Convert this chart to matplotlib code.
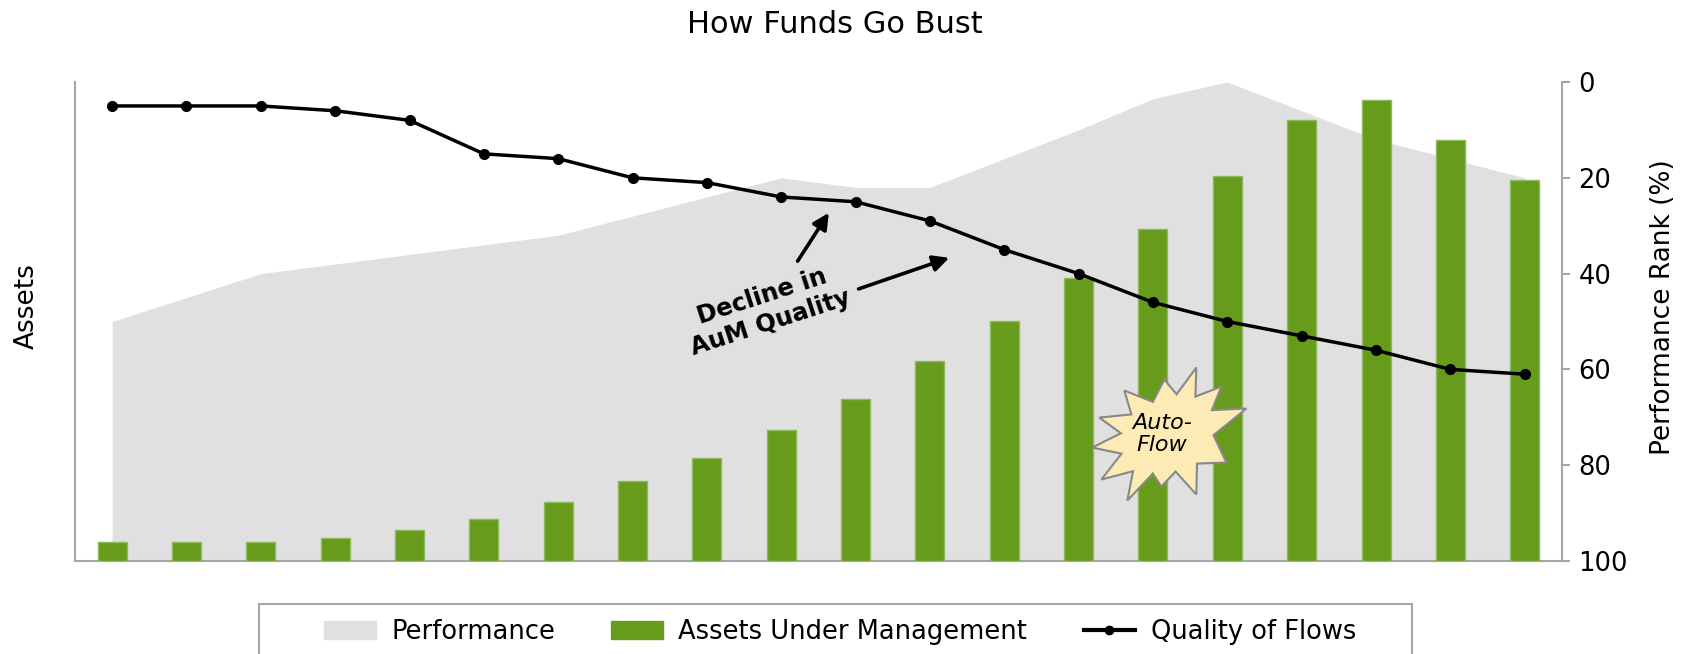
import matplotlib
matplotlib.use("Agg")
import matplotlib.pyplot as plt
from matplotlib.patches import Polygon, Rectangle, Patch
from matplotlib.lines import Line2D

# data
periods = list(range(20))
performance_rank = [50, 45, 40, 38, 36, 34, 32, 28, 24, 20, 22, 22, 16, 10, 3.5, 0, 6, 12, 16, 20]
assets = [4, 4, 4, 4.7, 6.5, 8.8, 12.4, 16.7, 21.4, 27.3, 33.9, 41.8, 50.1, 59.1, 69.3, 80.3, 92.1, 96.2, 87.9, 79.5]
flow_quality = [5, 5, 5, 6, 8, 15, 16, 20, 21, 24, 25, 29, 35, 40, 46, 50, 53, 56, 60, 61]
rank_ticks = [0, 20, 40, 60, 80, 100]
legend_labels = ["Performance", "Assets Under Management", "Quality of Flows"]

GREEN = "#679b1b"
GREY = "#e0e0e0"
AXIS = "#a6a6a6"

plt.rcParams['font.family'] = ['DejaVu Sans']

fig = plt.figure(figsize=(16.92, 6.54), dpi=100)
ax = fig.add_axes([0.0443, 0.1422, 0.8788, 0.7324])
ax_aum = ax.twinx()
ax_q = ax.twinx()

# performance area (rank axis, 0 at top)
ax.fill_between(periods, performance_rank, 100, color=GREY, linewidth=0)
ax.set_ylim(100, 0)
ax.set_xlim(-0.5, 19.5)
ax.set_xticks([])
ax.yaxis.tick_right()
ax.set_yticks(rank_ticks)
ax.tick_params(axis='y', colors=AXIS, labelcolor='black', labelsize=18.5,
               length=6, width=1.5, pad=6)
ax.spines['top'].set_visible(False)
for s in ['left', 'right', 'bottom']:
    ax.spines[s].set_color(AXIS)
    ax.spines[s].set_linewidth(1.5)

# assets bars
ax_aum.bar(periods, assets, width=0.39, color=GREEN, edgecolor="#8cba5c", linewidth=1)
ax_aum.set_ylim(0, 100)
ax_aum.set_yticks([])
for s in ax_aum.spines.values():
    s.set_visible(False)

# quality of flows line
ax_q.plot(periods, flow_quality, color='black', lw=2.5, marker='o', ms=7)
ax_q.set_ylim(100, 0)
ax_q.set_yticks([])
for s in ax_q.spines.values():
    s.set_visible(False)

# annotation
ax_q.text(8.8, 47.5, "Decline in\nAuM Quality", rotation=18, ha='center', va='center',
          fontsize=17.5, fontweight='bold', multialignment='center', rotation_mode='anchor')
arrow = dict(arrowstyle='-|>', color='black', lw=2.6, mutation_scale=24, shrinkA=0, shrinkB=0)
ax_q.annotate('', xy=(9.64, 27.3), xytext=(9.22, 37.4), arrowprops=arrow)
ax_q.annotate('', xy=(11.26, 36.7), xytext=(10.04, 43.2), arrowprops=arrow)

# starburst "Auto-Flow"
cx, cy = 14.22, 73.6
px_x, px_y = 74.36, 4.79   # pixels per data unit
tips = [(27, -67), (52, -48), (77, -26), (57, 28), (27, 60), (-8, 52),
        (-42, 66), (-68, 45), (-77, 13), (-70, -17), (-45, -44), (-5, -55)]
verts = []
for i, t in enumerate(tips):
    n = tips[(i + 1) % len(tips)]
    verts.append(t)
    verts.append((0.33 * (t[0] + n[0]), 0.33 * (t[1] + n[1])))
verts = [(cx + dx / px_x, cy + dy / px_y) for dx, dy in verts]
ax_q.add_patch(Polygon(verts, closed=True, facecolor="#fdebb5", edgecolor="#888888", lw=1.5, zorder=4))
ax_q.text(14.12, 73.5, "Auto-\nFlow", ha='center', va='center', fontsize=16,
          style='italic', zorder=5, linespacing=1.1)

# titles / labels
fig.text(0.4935, 0.963, "How Funds Go Bust", ha='center', va='center', fontsize=22)
fig.text(27 / 1692, 1 - 306 / 654, "Assets", rotation=90, ha='center', va='center', fontsize=19)
fig.text(1663 / 1692, 1 - 307 / 654, "Performance Rank (%)", rotation=90,
         ha='center', va='center', fontsize=19)

# legend
handles = [Patch(color=GREY), Patch(color=GREEN),
           Line2D([], [], color='black', lw=3, marker='o', ms=6)]
fig.legend(handles, legend_labels, loc='center', bbox_to_anchor=(0.4965, 0.0336), ncol=3,
           frameon=False, fontsize=18.5, handlelength=2.0, handletextpad=0.6, columnspacing=2.2)
fig.add_artist(Rectangle((259 / 1692, 1 - 662 / 654), 1153 / 1692, 58 / 654,
                         transform=fig.transFigure, fill=False, edgecolor=AXIS, lw=1.5))

fig.savefig("out.png", dpi=100)
